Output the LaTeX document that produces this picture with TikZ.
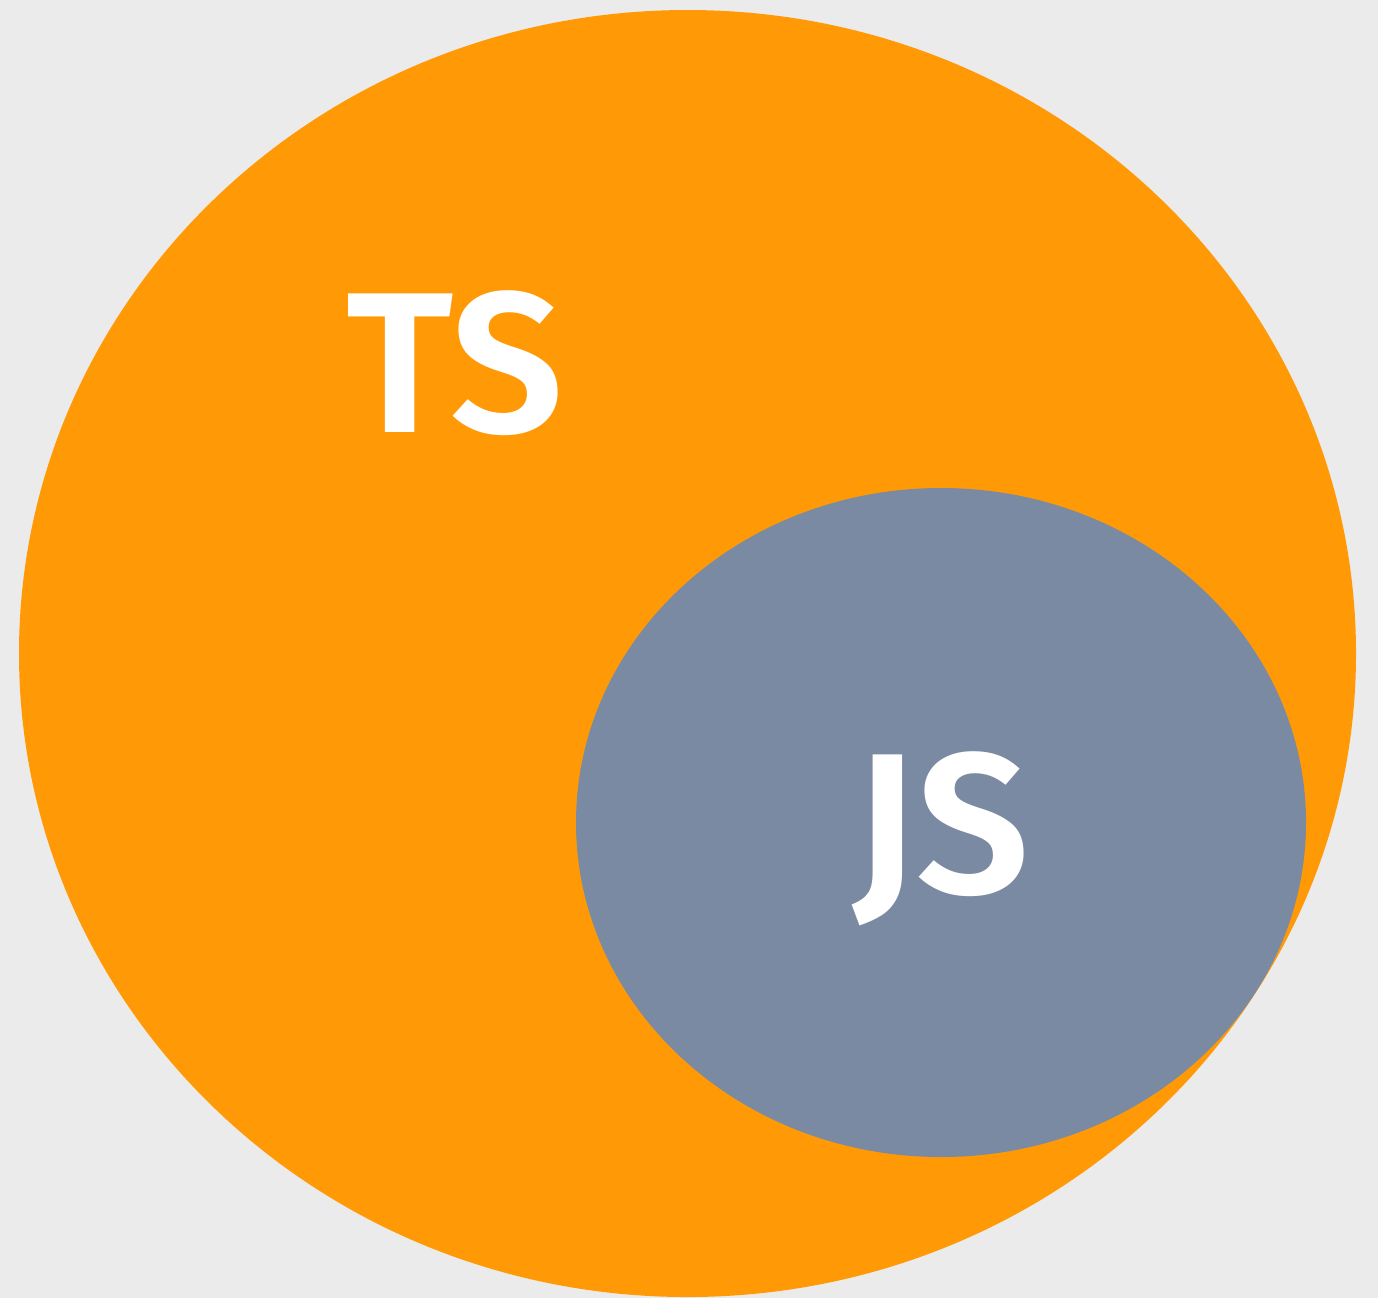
\documentclass[tikz,border=0pt]{standalone}
\usepackage{fontspec}
\setmainfont{Fira Sans}[BoldFont={Fira Sans SemiBold}]
\definecolor{bggray}{HTML}{EBEBEB}
\definecolor{tsorange}{HTML}{FF9A06}
\definecolor{jsblue}{HTML}{7A8AA2}
\begin{document}
\begin{tikzpicture}[lbl/.style={text=white,font=\fontsize{57}{60}\selectfont\bfseries,anchor=base,inner sep=0pt}]
			\fill[bggray] (0,0) rectangle (13.78,-12.98);
			\useasboundingbox (0,0) rectangle (13.78,-12.98);
			\fill[tsorange] (6.875,-6.535) ellipse (6.685 and 6.435);
			\fill[jsblue] (9.41,-8.225) ellipse (3.65 and 3.345);
			\node[lbl] (ts) at (4.55,-4.32) {TS};
			\node[lbl] (js) at (9.42,-8.93) {JS};
		\end{tikzpicture}
\end{document}
